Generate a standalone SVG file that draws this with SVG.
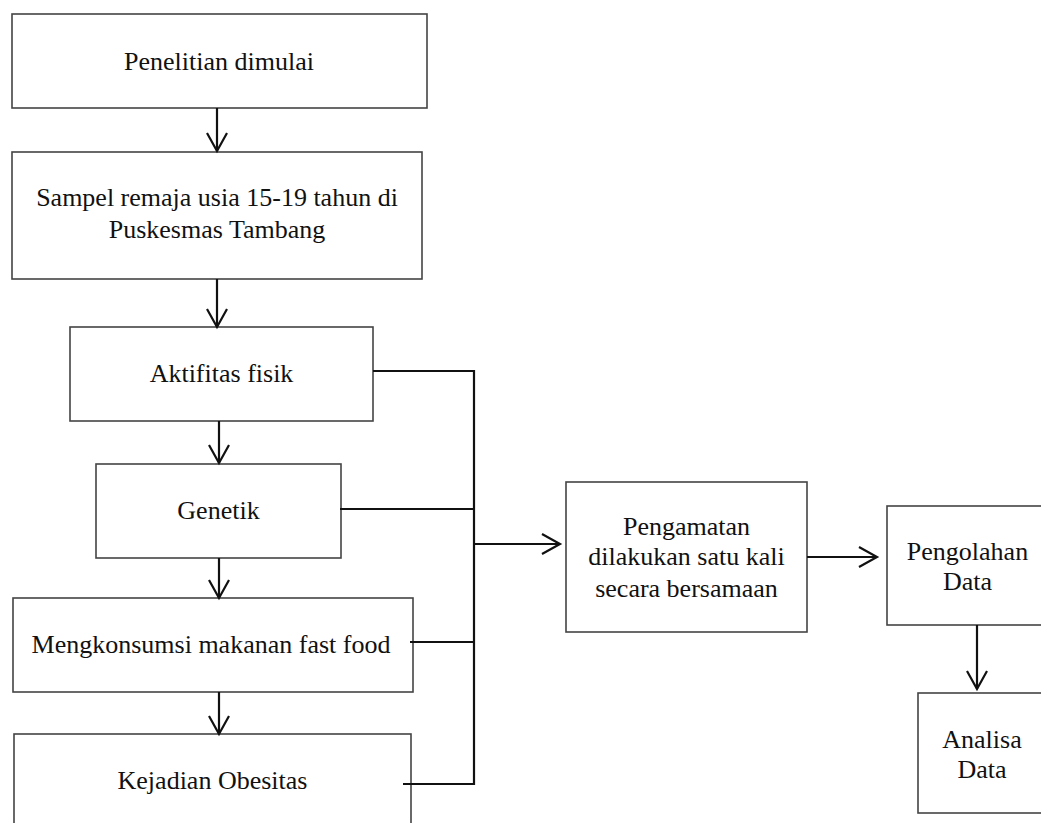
<svg xmlns="http://www.w3.org/2000/svg" width="1041" height="823" viewBox="0 0 1041 823">
<style>
.box{fill:#fff;stroke:#444;stroke-width:1.6}
.t{font-family:"Liberation Serif","Times New Roman",serif;font-size:26px;fill:#111;text-anchor:middle}
.c{fill:none;stroke:#111;stroke-width:2.2}
</style>
<defs>
<marker id="ah" markerUnits="userSpaceOnUse" markerWidth="24" markerHeight="24" viewBox="-20 -12 24 24" refX="0" refY="0" orient="auto">
<path d="M-18,-10 L0,0 L-18,10" fill="none" stroke="#111" stroke-width="2.2"/>
</marker>
</defs>
<rect width="1041" height="823" fill="#fff"/>
<g id="n1"><rect class="box" x="12" y="14" width="415" height="94"/><text class="t" x="219" y="70">Penelitian dimulai</text></g>
<g id="n2"><rect class="box" x="12" y="152" width="410" height="127"/><text class="t" x="217" y="206">Sampel remaja usia 15-19 tahun di</text><text class="t" x="217" y="238">Puskesmas Tambang</text></g>
<g id="n3"><rect class="box" x="70" y="327" width="303" height="94"/><text class="t" x="221.5" y="382">Aktifitas fisik</text></g>
<g id="n4"><rect class="box" x="96" y="464" width="245" height="94"/><text class="t" x="218.5" y="519">Genetik</text></g>
<g id="n5"><rect class="box" x="13" y="598" width="400" height="94"/><text class="t" x="211" y="653">Mengkonsumsi makanan fast food</text></g>
<g id="n6"><rect class="box" x="14" y="734" width="397" height="100"/><text class="t" x="212.5" y="789">Kejadian Obesitas</text></g>
<g id="n7"><rect class="box" x="566" y="482" width="241" height="150"/><text class="t" x="686.5" y="535">Pengamatan</text><text class="t" x="686.5" y="565">dilakukan satu kali</text><text class="t" x="686.5" y="597">secara bersamaan</text></g>
<g id="n8"><rect class="box" x="887" y="506" width="170" height="119"/><text class="t" x="967.5" y="560">Pengolahan</text><text class="t" x="967.5" y="590">Data</text></g>
<g id="n9"><rect class="box" x="918" y="693" width="140" height="120"/><text class="t" x="982" y="748">Analisa</text><text class="t" x="982" y="778">Data</text></g>
<g id="connectors">
<line class="c" x1="217" y1="108" x2="217" y2="151" marker-end="url(#ah)"/>
<line class="c" x1="217" y1="279" x2="217" y2="327" marker-end="url(#ah)"/>
<line class="c" x1="219" y1="421" x2="219" y2="463" marker-end="url(#ah)"/>
<line class="c" x1="219" y1="558" x2="219" y2="598" marker-end="url(#ah)"/>
<line class="c" x1="219" y1="692" x2="219" y2="734" marker-end="url(#ah)"/>
<polyline class="c" points="373,371 474,371 474,784 403,784"/>
<line class="c" x1="340" y1="509" x2="474" y2="509"/>
<line class="c" x1="410" y1="642" x2="474" y2="642"/>
<line class="c" x1="474" y1="544" x2="560" y2="544" marker-end="url(#ah)"/>
<line class="c" x1="807" y1="557" x2="877" y2="557" marker-end="url(#ah)"/>
<line class="c" x1="977" y1="625" x2="977" y2="689" marker-end="url(#ah)"/>
</g>
</svg>
